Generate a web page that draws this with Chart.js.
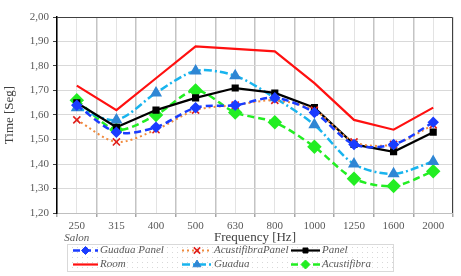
<!DOCTYPE html>
<html>
<head>
<meta charset="utf-8">
<script src="https://cdn.jsdelivr.net/npm/chart.js@4"></script>
<style>
  html, body { margin: 0; padding: 0; background: #fff; }
  #wrap { width: 461px; height: 276px; position: relative; }
</style>
</head>
<body>
<div id="wrap"><canvas id="chart"></canvas></div>
<script>
const frequencies = ['250', '315', '400', '500', '630', '800', '1000', '1250', '1600', '2000'];
const guaduaPanel = [1.64, 1.53, 1.55, 1.63, 1.64, 1.67, 1.61, 1.48, 1.48, 1.57];
const acustifibraPanel = [1.58, 1.49, 1.54, 1.62, 1.64, 1.66, 1.62, 1.49, 1.48, 1.56];
const panel = [1.65, 1.55, 1.62, 1.67, 1.71, 1.69, 1.63, 1.48, 1.45, 1.53];
const room = [1.72, 1.62, 1.75, 1.88, 1.87, 1.86, 1.73, 1.58, 1.54, 1.63];
const guadua = [1.63, 1.58, 1.69, 1.78, 1.76, 1.67, 1.56, 1.40, 1.36, 1.41];
const acustifibra = [1.66, 1.54, 1.60, 1.70, 1.61, 1.57, 1.47, 1.34, 1.31, 1.37];

const SERIF = '"Liberation Serif", "DejaVu Serif", serif';

const datasets = [
  {
    label: 'Guadua Panel', data: guaduaPanel,
    borderColor: '#1a3cff', borderWidth: 2.5, borderDash: [7, 4], tension: 0.3,
    pointStyle: 'rectRot', pointRadius: 4, pointBackgroundColor: '#1a3cff', pointBorderColor: '#1a3cff'
  },
  {
    label: 'AcustifibraPanel', data: acustifibraPanel,
    borderColor: '#f08a3c', borderWidth: 2, borderDash: [2, 3], tension: 0.3,
    pointStyle: 'crossRot', pointRadius: 5, pointBorderWidth: 1.6, pointBackgroundColor: '#e0201c', pointBorderColor: '#e0201c'
  },
  {
    label: 'Panel', data: panel,
    borderColor: '#000000', borderWidth: 2.2, tension: 0,
    pointStyle: 'rect', pointRadius: 3.5, pointBackgroundColor: '#000', pointBorderColor: '#000'
  },
  {
    label: 'Room', data: room,
    borderColor: '#ff1010', borderWidth: 2.2, tension: 0,
    pointRadius: 0
  },
  {
    label: 'Guadua', data: guadua,
    borderColor: '#18b4ee', borderWidth: 2.5, borderDash: [8, 3, 2, 3], tension: 0.3,
    pointStyle: 'triangle', pointRadius: 4.5, pointBackgroundColor: '#2f86d4', pointBorderColor: '#2f86d4'
  },
  {
    label: 'Acustifibra', data: acustifibra,
    borderColor: '#22ee22', borderWidth: 2.5, borderDash: [7, 4], tension: 0.3,
    pointStyle: 'rectRot', pointRadius: 5.5, pointBackgroundColor: '#22ee22', pointBorderColor: '#22ee22'
  }
];

// legend, axis title and the "Salon" note drawn by hand to keep Excel layout
const extras = {
  id: 'extras',
  afterDraw(chart) {
    const ctx = chart.ctx;
    const area = chart.chartArea;
    ctx.save();

    // plot frame (top + right)
    ctx.strokeStyle = '#404040';
    ctx.lineWidth = 1;
    ctx.beginPath();
    ctx.moveTo(area.left, area.top + 0.5);
    ctx.lineTo(area.right - 0.5, area.top + 0.5);
    ctx.lineTo(area.right - 0.5, area.bottom);
    ctx.stroke();

    ctx.fillStyle = '#404040';
    ctx.textAlign = 'center';
    ctx.textBaseline = 'middle';
    ctx.font = '13px ' + SERIF;
    ctx.fillText('Frequency [Hz]', (area.left + area.right) / 2, 238);
    ctx.font = 'italic 11px ' + SERIF;
    ctx.fillStyle = '#595959';
    ctx.fillText('Salon', chart.scales.x.getPixelForValue(0), 238);

    // legend box with dotted fill
    const bx = 67, by = 244, bw = 326, bh = 27;
    const pc = document.createElement('canvas');
    pc.width = 5; pc.height = 5;
    const pctx = pc.getContext('2d');
    pctx.fillStyle = '#fff';
    pctx.fillRect(0, 0, 5, 5);
    pctx.fillStyle = '#d8d8d8';
    pctx.fillRect(2, 2, 1, 1);
    ctx.fillStyle = ctx.createPattern(pc, 'repeat');
    ctx.fillRect(bx, by, bw, bh);
    ctx.strokeStyle = '#d9d9d9';
    ctx.strokeRect(bx + 0.5, by + 0.5, bw, bh);

    const cols = [73, 182, 291];
    const rows = [250.5, 264.5];
    const sampleW = [25, 30, 29];
    chart.data.datasets.forEach((ds, i) => {
      const col = i % 3, row = Math.floor(i / 3);
      const x0 = cols[col], y = rows[row];
      const w = sampleW[col];
      ctx.save();
      ctx.strokeStyle = ds.borderColor;
      ctx.lineWidth = ds.borderWidth;
      ctx.setLineDash(ds.borderDash || []);
      ctx.beginPath();
      ctx.moveTo(x0, y);
      ctx.lineTo(x0 + w, y);
      ctx.stroke();
      ctx.setLineDash([]);
      if (ds.pointRadius) {
        ctx.fillStyle = ds.pointBackgroundColor;
        ctx.strokeStyle = ds.pointBorderColor;
        ctx.lineWidth = ds.pointBorderWidth || 1;
        Chart.helpers.drawPoint(ctx, {
          pointStyle: ds.pointStyle, radius: Math.min(ds.pointRadius, 4.5), rotation: 0,
          borderWidth: ds.pointBorderWidth || 1
        }, x0 + w / 2, y);
      }
      ctx.restore();
      ctx.fillStyle = '#595959';
      ctx.font = 'italic 11px ' + SERIF;
      ctx.textAlign = 'left';
      ctx.textBaseline = 'middle';
      ctx.fillText(ds.label, x0 + w + 2, y);
    });

    ctx.restore();
  }
};

new Chart(document.getElementById('chart'), {
  type: 'line',
  data: { labels: frequencies, datasets: datasets },
  options: {
    responsive: true,
    maintainAspectRatio: false,
    animation: false,
    layout: { padding: { left: 0, right: 8, top: 17, bottom: 0 } },
    plugins: {
      legend: { display: false },
      tooltip: { enabled: false }
    },
    scales: {
      x: {
        offset: true,
        grid: { offset: true, color: '#c4c4c4', lineWidth: 1.5, tickLength: 4, tickColor: '#a6a6a6' },
        border: { color: '#bfbfbf', width: 1 },
        ticks: { color: '#595959', font: { family: SERIF, size: 11 }, padding: 3, maxRotation: 0, autoSkip: false },
        afterFit(scale) { scale.height = 63; }
      },
      x2: {
        labels: frequencies,
        type: 'category',
        position: 'bottom',
        offset: true,
        display: true,
        grid: { offset: false, color: '#e3e3e3', lineWidth: 1, drawTicks: false },
        border: { display: false },
        ticks: { display: false },
        afterFit(scale) { scale.height = 0; }
      },
      y: {
        min: 1.2,
        max: 2.0,
        ticks: {
          stepSize: 0.1,
          color: '#595959',
          font: { family: SERIF, size: 11 },
          padding: 4,
          callback: v => v.toFixed(2).replace('.', ',')
        },
        grid: { color: '#d9d9d9', lineWidth: 1, tickLength: 4, tickColor: '#404040' },
        border: { color: '#000', width: 1.5 },
        title: {
          display: true, text: 'Time [Seg]', color: '#404040',
          font: { family: SERIF, size: 13 }, padding: { top: 2, bottom: 0 }
        },
        afterFit(scale) { scale.width = 57; }
      }
    }
  },
  plugins: [extras]
});
</script>
</body>
</html>
